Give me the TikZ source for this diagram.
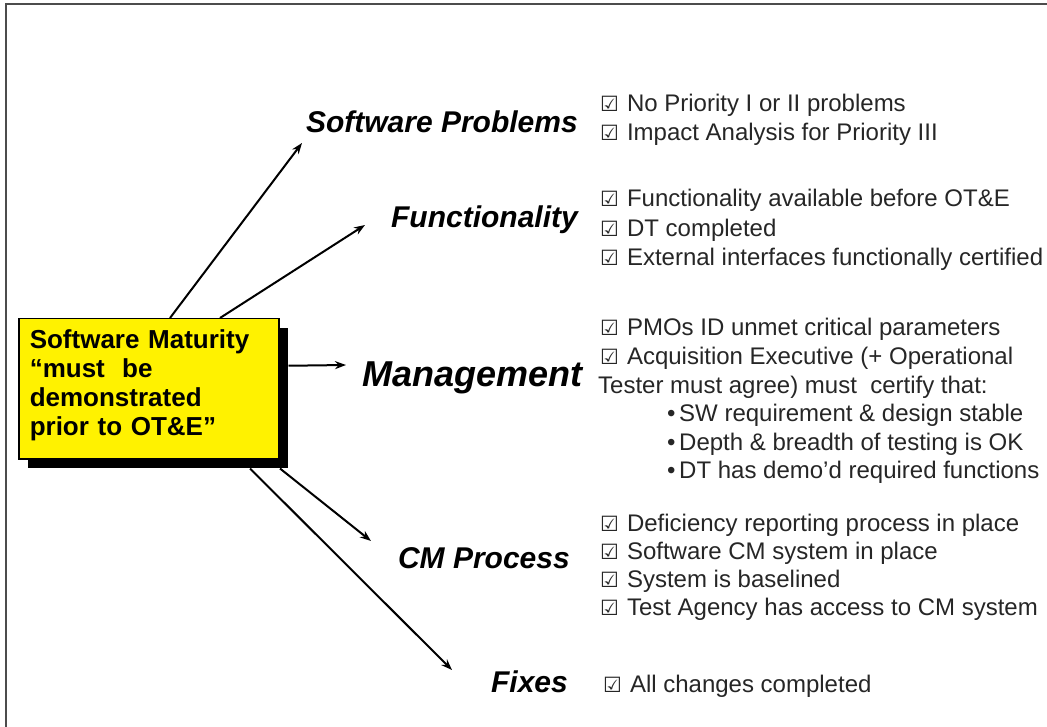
\documentclass[tikz,border=0pt]{standalone}
\usepackage{fontspec}
\setmainfont{Liberation Sans}
\newfontfamily\dejavu{DejaVu Sans}
\usetikzlibrary{arrows.meta,shadows}
\newcommand\chk{{\dejavu\fontsize{21}{21}\selectfont ☑}\hspace{8pt}}
\newcommand\bul{\makebox[12pt][l]{•}}
\begin{document}
\begin{tikzpicture}[x=1pt,y=-1pt,
  item/.style={anchor=base west,inner sep=0pt,font=\fontsize{24}{28}\selectfont,text=black!85},
  head/.style={anchor=base east,inner sep=0pt,font=\fontsize{30}{32}\selectfont\bfseries\itshape},
  arr/.style={line width=2pt,-{Stealth[length=11pt,width=8pt]}},
  ybox/.style={draw=black,line width=1.5pt,fill=yellow,anchor=north west,
    minimum width=260pt,minimum height=140pt,inner sep=0pt,
    text width=238pt,align=left,font=\fontsize{26}{29}\selectfont\bfseries,
    drop shadow={shadow xshift=9pt,shadow yshift=-9pt,fill=black,opacity=1}},
  frame/.style={line width=2pt,draw=black!70}]
\useasboundingbox (0,0) rectangle (1047,727);
\fill[white] (0,0) rectangle (1047,727);
\draw[frame] (6,727) -- (6,4) -- (1047,4);

% central box
\node[ybox] (box) at (18,318) {Software Maturity\\“must\ \ be\\demonstrated\\prior to OT\&E”\vspace{6pt}};

% headings
\node[head] (sp) at (578,133) {Software Problems};
\node[head] (fn) at (578,228) {Functionality};
\node[head,font=\fontsize{36}{38}\selectfont\bfseries\itshape] (mg) at (583,386) {Management};
\node[head] (cm) at (570,568) {CM Process};
\node[head] (fx) at (568,692) {Fixes};

% arrow tips
\coordinate (tsp) at (302,143);
\coordinate (tfn) at (365,225);
\coordinate (tmg) at (346,365);
\coordinate (tcm) at (371,541);
\coordinate (tfx) at (452,670);

\draw[arr] ([xshift=152pt]box.north west) -- (tsp);
\draw[arr] ([xshift=202pt]box.north west) -- (tfn);
\draw[arr] ([xshift=9pt,yshift=23pt]box.east) -- (tmg);
\draw[arr] ([xshift=262pt,yshift=-9pt]box.south west) -- (tcm);
\draw[arr] ([xshift=232pt,yshift=-9pt]box.south west) -- (tfx);

% items
\node[item] (sp1) at (600,112) {\chk No Priority I or II problems};
\node[item] (sp2) at (600,141) {\chk Impact Analysis for Priority III};

\node[item] (fn1) at (600,207) {\chk Functionality available before OT\&E};
\node[item] (fn2) at (600,237) {\chk DT completed};
\node[item] (fn3) at (600,266) {\chk External interfaces functionally certified};

\node[item] (mg1) at (600,335) {\chk PMOs ID unmet critical parameters};
\node[item] (mg2) at (600,364) {\chk Acquisition Executive (+ Operational};
\node[item] (mg3) at (598,393) {Tester must agree) must\ \ certify that:};
\node[item] (mg4) at (667,421) {\bul SW requirement \& design stable};
\node[item] (mg5) at (667,450) {\bul Depth \& breadth of testing is OK};
\node[item] (mg6) at (667,478) {\bul DT has demo’d required functions};

\node[item] (cm1) at (600,531) {\chk Deficiency reporting process in place};
\node[item] (cm2) at (600,559) {\chk Software CM system in place};
\node[item] (cm3) at (600,587) {\chk System is baselined};
\node[item] (cm4) at (600,615) {\chk Test Agency has access to CM system};

\node[item] (fx1) at (603,692) {\chk All changes completed};
\end{tikzpicture}
\end{document}
